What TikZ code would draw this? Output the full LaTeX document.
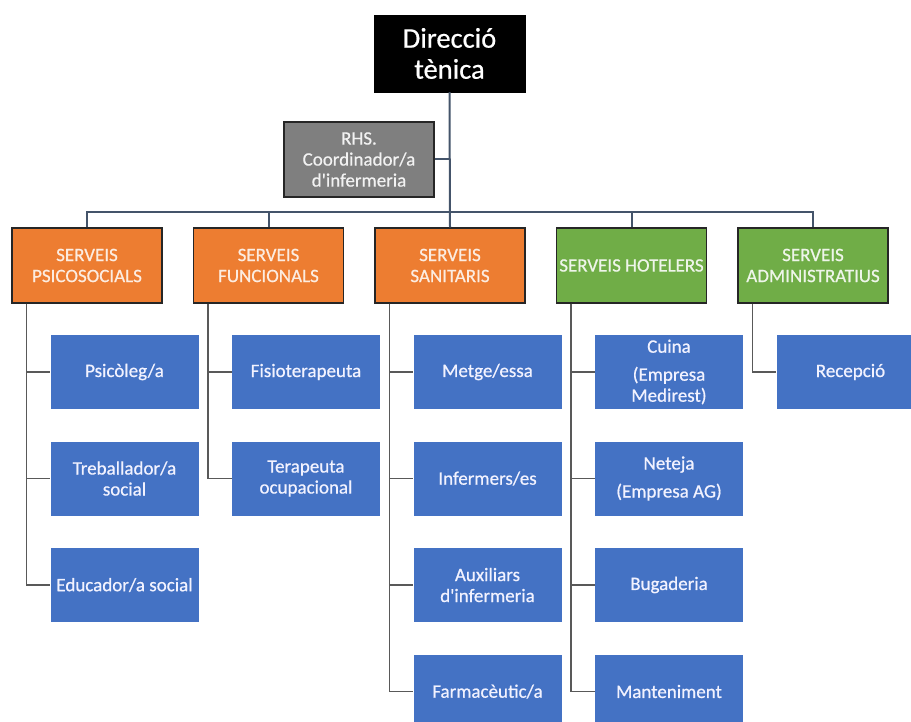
\documentclass[tikz,border=0pt]{standalone}
\usepackage{fontspec}
\setmainfont{Carlito}[Ligatures=TeXOff,FakeBold=0.6]
\usepackage{tikz}
\usetikzlibrary{positioning, calc}
\definecolor{boxblue}{RGB}{68,114,196}
\definecolor{boxorange}{RGB}{237,125,49}
\definecolor{boxgreen}{RGB}{112,173,71}
\definecolor{boxgray}{RGB}{127,127,127}
\definecolor{trunkcol}{RGB}{68,84,106}
\definecolor{branchcol}{RGB}{89,89,89}

\begin{document}
\begin{tikzpicture}[x=1pt,y=-1pt,node distance=106.5pt and 181.5pt,on grid,
    box/.style={rectangle,align=center,inner sep=0pt,font=\fontsize{19}{21}\selectfont},
    topbox/.style={box,fill=black,draw=black,text=white,minimum width=151pt,minimum height=77pt,font=\fontsize{28.5}{31}\selectfont},
    rhsbox/.style={box,fill=boxgray,draw=black!85,line width=1.3pt,text=white!95!black,minimum width=150pt,minimum height=75pt},
    areaorange/.style={box,fill=boxorange,draw=black!85,line width=1.3pt,text=boxorange!15!white,minimum width=150pt,minimum height=75pt},
    areagreen/.style={box,fill=boxgreen,draw=black!85,line width=1.3pt,text=boxgreen!12!white,minimum width=150pt,minimum height=75pt},
    jobbox/.style={box,fill=boxblue,text=white!95!blue,minimum width=148pt,minimum height=74pt},
    trunk/.style={draw=trunkcol,line width=2pt},
    branch/.style={draw=branchcol,line width=1.5pt}]
    \clip (0,0) rectangle (911,722);
    \useasboundingbox (0,0) rectangle (911,722);

    \node[topbox] (dir) at (449.5,53.5) {Direcció\\tènica};
    \node[rhsbox] (rhs) at (359,159.5) {RHS.\\Coordinador/a\\d'infermeria};

    \node[areaorange] (sanit) at (450,265.5) {SERVEIS\\SANITARIS};
    \node[areaorange] (func) [left=of sanit] {SERVEIS\\FUNCIONALS};
    \node[areaorange] (psico) [left=of func] {SERVEIS\\PSICOSOCIALS};
    \node[areagreen] (hotel) [right=of sanit] {SERVEIS HOTELERS};
    \node[areagreen] (admin) [right=of hotel] {SERVEIS\\ADMINISTRATIUS};

    \node[jobbox] (psi1) [below right=106.5pt and 37.5pt of psico] {Psicòleg/a};
    \node[jobbox] (psi2) [below=of psi1] {Treballador/a\\social};
    \node[jobbox] (psi3) [below=of psi2] {Educador/a social};

    \node[jobbox] (fun1) [below right=106.5pt and 37.5pt of func] {Fisioterapeuta};
    \node[jobbox] (fun2) [below=of fun1] {Terapeuta\\ocupacional};

    \node[jobbox] (san1) [below right=106.5pt and 37.5pt of sanit] {Metge/essa};
    \node[jobbox] (san2) [below=of san1] {Infermers/es};
    \node[jobbox] (san3) [below=of san2] {Auxiliars\\d'infermeria};
    \node[jobbox] (san4) [below=of san3] {Farmacèutic/a};

    \node[jobbox] (hot1) [below right=106.5pt and 37.5pt of hotel] {Cuina\\[7pt](Empresa\\Medirest)};
    \node[jobbox] (hot2) [below=of hot1] {Neteja\\[7pt](Empresa AG)};
    \node[jobbox] (hot3) [below=of hot2] {Bugaderia};
    \node[jobbox] (hot4) [below=of hot3] {Manteniment};

    \node[jobbox] (adm1) [below right=106.5pt and 37.5pt of admin] {Recepció};

    \coordinate (bus) at ($(rhs.south)!0.5!(psico.north)$);

    \draw[trunk] (dir.south) -- (sanit.north);
    \draw[trunk] (rhs.east) -- (rhs.east -| dir.south);
    \draw[trunk] (psico.north) -- (psico.north |- bus) -- (admin.north |- bus) -- (admin.north);
    \foreach \n in {func,hotel}
        \draw[trunk] (\n.north) -- (\n.north |- bus);

    \foreach \p/\kids in {psico/{psi1,psi2,psi3},func/{fun1,fun2},sanit/{san1,san2,san3,san4},hotel/{hot1,hot2,hot3,hot4},admin/{adm1}}
        \foreach \k in \kids
            \draw[branch] ([xshift=15pt]\p.south west) |- (\k.west);
\end{tikzpicture}
\end{document}
